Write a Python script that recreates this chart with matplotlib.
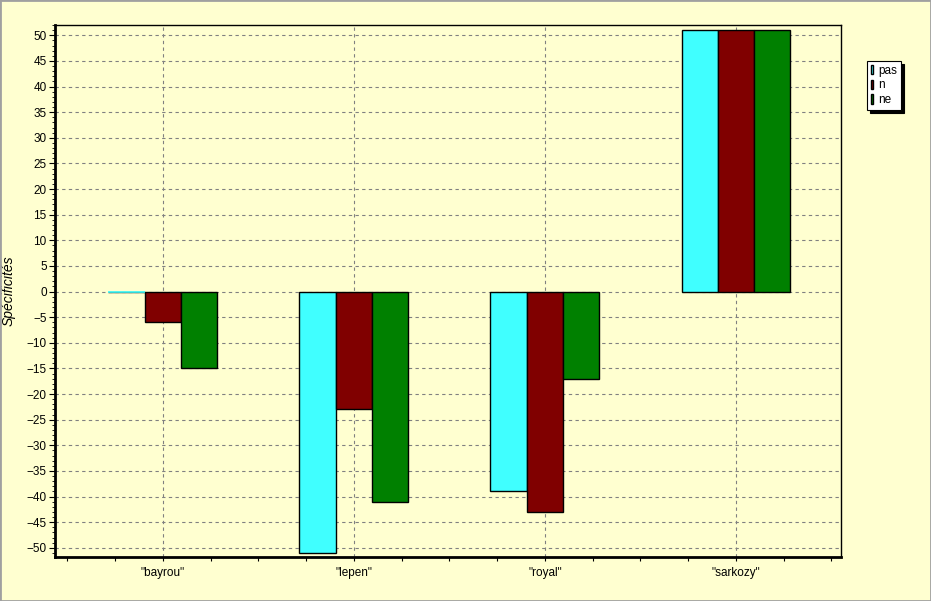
import numpy as np
import matplotlib.pyplot as plt
from matplotlib.patches import Rectangle
from matplotlib.ticker import MultipleLocator

# data
categories = ['"bayrou"', '"lepen"', '"royal"', '"sarkozy"']
series_names = ["pas", "n", "ne"]
pas = [0, -51, -39, 51]
n = [-6, -23, -43, 51]
ne = [-15, -41, -17, 51]
colors = ["#40FFFF", "#800000", "#008000"]

bg = "#FFFFD0"
fig = plt.figure(figsize=(9.31, 6.01), dpi=100, facecolor=bg)
ax = fig.add_axes([55 / 931, 1 - 557 / 601, (841 - 55) / 931, (557 - 25) / 601])
ax.set_facecolor(bg)

x = np.arange(len(categories))
width = 0.19
for i, (vals, name, col) in enumerate(zip([pas, n, ne], series_names, colors)):
    ax.bar(x + (i - 1) * width, vals, width, color=col, edgecolor="black",
           linewidth=1.0, label=name, zorder=3)
# zero-height bar draws as a cyan line in the original
ax.hlines(0, x[0] - 1.5 * width, x[0] - 0.5 * width, color=colors[0], lw=1.2, zorder=4)

ax.set_xlim(-0.565, 3.55)
ax.set_ylim(-51.8, 52)
ax.set_xticks(x)
ax.set_xticklabels(categories, fontsize=8.5, family="Liberation Sans")
ax.xaxis.set_minor_locator(MultipleLocator(0.25))
ax.set_yticks(np.arange(-50, 51, 5))
ax.yaxis.set_minor_locator(MultipleLocator(1))
for lab in ax.get_yticklabels():
    lab.set_fontsize(8.5)
    lab.set_family("Liberation Sans")
ax.tick_params(axis="x", which="both", direction="out", length=3, width=0.8, pad=4)
ax.tick_params(axis="y", which="major", direction="out", length=4, width=0.8, pad=2)
ax.tick_params(axis="y", which="minor", direction="out", length=2, width=0.6)

ax.grid(True, which="major", linestyle=(0, (3, 3)), color="#808080", linewidth=0.8, zorder=0)
ax.set_axisbelow(True)

for side in ["top", "right"]:
    ax.spines[side].set_linewidth(1.0)
for side in ["left", "bottom"]:
    ax.spines[side].set_linewidth(2.0)

ax.set_ylabel("Spécificités", fontsize=10, style="italic", family="Liberation Sans", labelpad=8)

# legend box with black shadow
leg = fig.legend(loc="upper left", bbox_to_anchor=(867 / 931, 1 - 61 / 601),
                 frameon=True, fancybox=False,
                 shadow={"color": "black", "alpha": 1, "ox": 2.5, "oy": -2.5},
                 handlelength=0.25, handleheight=0.9, handletextpad=0.4,
                 borderpad=0.3, labelspacing=0.25, borderaxespad=0,
                 prop={"family": "Liberation Sans", "size": 8.5})
leg.get_frame().set_edgecolor("black")
leg.get_frame().set_linewidth(0.8)
leg.get_frame().set_facecolor("white")

# figure border
fig.patches.append(Rectangle((0, 0), 1, 1, transform=fig.transFigure, fill=False,
                             edgecolor="#A0A0A0", linewidth=2))

fig.savefig("out.png", dpi=100, facecolor=bg)
